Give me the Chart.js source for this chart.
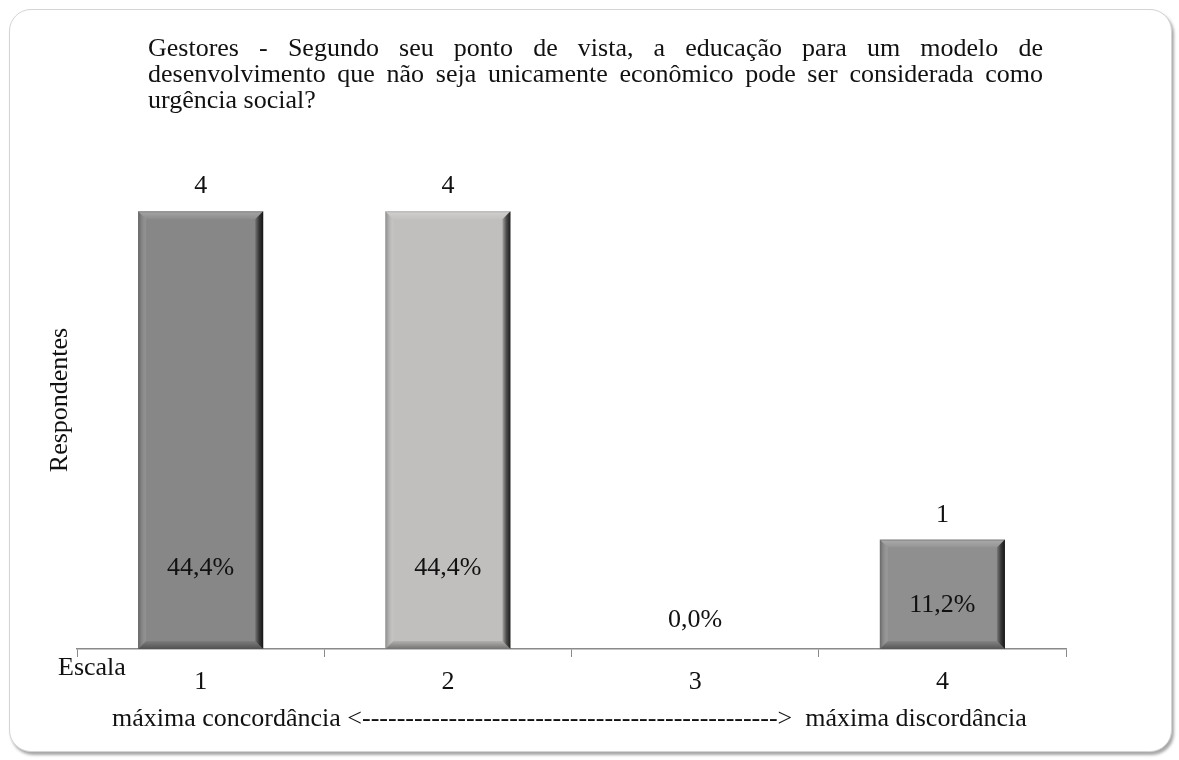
<!DOCTYPE html>
<html lang="pt">
<head>
<meta charset="UTF-8">
<title>Gestores - urgência social</title>
<script src="https://cdn.jsdelivr.net/npm/chart.js"></script>
<style>
    body {
      margin: 0;
      background: #fff;
      font-family: "Liberation Serif", "Times New Roman", serif;
      color: #111;
    }
    #wrap {
      position: relative;
      width: 1179px;
      height: 760px;
      overflow: hidden;
    }
    #frame {
      position: absolute;
      left: 9px;
      top: 9px;
      width: 1161px;
      height: 741px;
      border: 1px solid #d4d4d4;
      border-radius: 22px;
      box-shadow: 2px 3px 3px rgba(0, 0, 0, 0.35);
      background: #fff;
    }
    #chart {
      position: absolute;
      left: 0;
      top: 0;
    }
    .txt {
      position: absolute;
      font-size: 26px;
      line-height: 26px;
      white-space: nowrap;
    }
    #title {
      left: 148px;
      top: 35px;
      width: 895px;
      white-space: normal;
    }
    #title .j {
      display: block;
      text-align: justify;
      text-align-last: justify;
    }
    #escala {
      left: 58px;
      top: 654px;
    }
    #caption {
      left: 112px;
      top: 705px;
      white-space: pre;
    }
</style>
</head>
<body>
<div id="wrap">
  <div id="frame"></div>
  <canvas id="chart" width="1179" height="760"></canvas>
  <div class="txt" id="title">
    <span class="j">Gestores - Segundo seu ponto de vista, a educação para um modelo de</span>
    <span class="j">desenvolvimento que não seja unicamente econômico pode ser considerada como</span>
    <span>urgência social?</span>
  </div>
  <div class="txt" id="escala">Escala</div>
  <div class="txt" id="caption">máxima concordância &lt;------------------------------------------------&gt;  máxima discordância</div>
</div>

<script>
    // scale points 1..4 and how many managers picked each
    const categories = ['1', '2', '3', '4'];
    const respondents = [4, 4, 0, 1];
    const shares = [44.4, 44.4, 0.0, 11.2];
    const barColors = ['#878787', '#c1bfbe', '#8c8c8c', '#8f8f8f'];

    const serif = "'Liberation Serif', 'Times New Roman', serif";

    // Excel-style bevel on each bar
    const bevelPlugin = {
      id: 'bevel',
      afterDatasetsDraw(chart) {
        const ctx = chart.ctx;
        const meta = chart.getDatasetMeta(0);
        const b = 8;
        meta.data.forEach(bar => {
          const { x, y, base, width } = bar.getProps(['x', 'y', 'base', 'width'], true);
          if (base - y < 1) return;
          const l = x - width / 2, r = x + width / 2, t = y, bt = base;
          ctx.save();

          // top edge
          let g = ctx.createLinearGradient(0, t, 0, t + b);
          g.addColorStop(0, 'rgba(0,0,0,0.12)');
          g.addColorStop(0.2, 'rgba(255,255,255,0.22)');
          g.addColorStop(1, 'rgba(255,255,255,0.04)');
          ctx.fillStyle = g;
          ctx.beginPath();
          ctx.moveTo(l, t); ctx.lineTo(r, t); ctx.lineTo(r - b, t + b); ctx.lineTo(l + b, t + b);
          ctx.closePath(); ctx.fill();

          // left edge
          g = ctx.createLinearGradient(l, 0, l + b, 0);
          g.addColorStop(0, 'rgba(0,0,0,0.28)');
          g.addColorStop(1, 'rgba(255,255,255,0.08)');
          ctx.fillStyle = g;
          ctx.beginPath();
          ctx.moveTo(l, t); ctx.lineTo(l + b, t + b); ctx.lineTo(l + b, bt - b); ctx.lineTo(l, bt);
          ctx.closePath(); ctx.fill();

          // right edge
          g = ctx.createLinearGradient(r - b, 0, r, 0);
          g.addColorStop(0, 'rgba(0,0,0,0.15)');
          g.addColorStop(0.5, 'rgba(0,0,0,0.6)');
          g.addColorStop(1, 'rgba(0,0,0,0.85)');
          ctx.fillStyle = g;
          ctx.beginPath();
          ctx.moveTo(r, t); ctx.lineTo(r, bt); ctx.lineTo(r - b, bt - b); ctx.lineTo(r - b, t + b);
          ctx.closePath(); ctx.fill();

          // bottom edge
          g = ctx.createLinearGradient(0, bt - b, 0, bt);
          g.addColorStop(0, 'rgba(0,0,0,0.08)');
          g.addColorStop(1, 'rgba(0,0,0,0.4)');
          ctx.fillStyle = g;
          ctx.beginPath();
          ctx.moveTo(l, bt); ctx.lineTo(l + b, bt - b); ctx.lineTo(r - b, bt - b); ctx.lineTo(r, bt);
          ctx.closePath(); ctx.fill();

          ctx.restore();
        });
      }
    };

    // counts above the bars, shares inside them
    const labelPlugin = {
      id: 'barLabels',
      afterDatasetsDraw(chart, args, opts) {
        const ctx = chart.ctx;
        const yScale = chart.scales.y;
        const meta = chart.getDatasetMeta(0);
        ctx.save();
        ctx.font = '26px ' + serif;
        ctx.fillStyle = '#111';
        ctx.textAlign = 'center';
        ctx.textBaseline = 'alphabetic';
        meta.data.forEach((bar, i) => {
          const v = respondents[i];
          if (v > 0) ctx.fillText(String(v), bar.x, bar.y - 18);
          const pct = shares[i].toFixed(1).replace('.', ',') + '%';
          ctx.fillText(pct, bar.x, yScale.getPixelForValue(opts.levels[i]));
        });
        ctx.restore();
      }
    };

    new Chart(document.getElementById('chart'), {
      type: 'bar',
      data: {
        labels: categories,
        datasets: [{
          data: respondents,
          backgroundColor: barColors,
          borderWidth: 0,
          barPercentage: 0.506,
          categoryPercentage: 1
        }]
      },
      options: {
        responsive: false,
        animation: false,
        layout: { padding: { left: 27, right: 113, top: 151, bottom: 0 } },
        plugins: {
          legend: { display: false },
          tooltip: { enabled: false },
          barLabels: { levels: [0.68, 0.68, 0.2, 0.34] }
        },
        scales: {
          x: {
            grid: {
              offset: true,
              drawOnChartArea: false,
              drawTicks: true,
              tickLength: 8,
              color: '#8a8a8a'
            },
            border: { display: true, color: '#8a8a8a', width: 1.5 },
            ticks: {
              color: '#111',
              padding: 10,
              font: { family: serif, size: 26 }
            },
            afterFit: s => { s.height = 111; }
          },
          y: {
            min: 0,
            max: 4.55,
            grid: { display: false },
            border: { display: false },
            ticks: { display: false },
            title: {
              display: true,
              text: 'Respondentes',
              color: '#111',
              padding: { top: 18, bottom: 0 },
              font: { family: serif, size: 26 }
            },
            afterFit: s => { s.width = 50; }
          }
        }
      },
      plugins: [bevelPlugin, labelPlugin]
    });
</script>
</body>
</html>
